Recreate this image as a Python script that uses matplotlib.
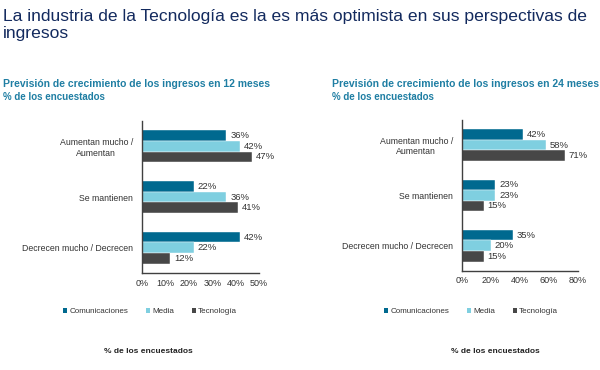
import numpy as np
import matplotlib
matplotlib.use("Agg")
import matplotlib.pyplot as plt
from matplotlib.patches import Patch

plt.rcParams["font.family"] = ["Liberation Sans", "DejaVu Sans"]

# --- data ---
categories = ["Aumentan mucho /\nAumentan", "Se mantienen", "Decrecen mucho / Decrecen"]
series_names = ["Comunicaciones", "Media", "Tecnología"]

values_12m = {
    "Comunicaciones": [36, 22, 42],
    "Media": [42, 36, 22],
    "Tecnología": [47, 41, 12],
}
values_24m = {
    "Comunicaciones": [42, 23, 35],
    "Media": [58, 23, 20],
    "Tecnología": [71, 15, 15],
}

ticks_12m = [0, 10, 20, 30, 40, 50]
ticks_24m = [0, 20, 40, 60, 80]

colors = {"Comunicaciones": "#00698f", "Media": "#7fcfe0", "Tecnología": "#474747"}
TITLE_COLOR = "#132a5e"
SUB_COLOR = "#1f7ea3"
TEXT_COLOR = "#333333"

fig = plt.figure(figsize=(6.0, 3.7), dpi=100)

fig.text(0.005, 0.975, "La industria de la Tecnología es la es más optimista en sus perspectivas de\ningresos",
         ha="left", va="top", fontsize=12.6, color=TITLE_COLOR, linespacing=1.12)


def draw_panel(rect, data, ticks, xmax, sub_x, subtitle, legend_x, foot_x):
    ax = fig.add_axes(rect)
    y = np.arange(len(categories))
    h = 0.21
    offsets = [-h, 0, h]
    # width of one data unit in pixels, so labels sit ~4px past the bar end
    px_per_unit = rect[2] * 600 / xmax
    for name, off in zip(series_names, offsets):
        vals = data[name]
        ax.barh(y + off, vals, height=h, color=colors[name], edgecolor="white", linewidth=0.3)
        for yi, v in zip(y, vals):
            ax.text(v + 4.0 / px_per_unit, yi + off, f"{v}%", va="center", ha="left",
                    fontsize=6.8, color=TEXT_COLOR)
    ax.set_ylim(2.5, -0.5)
    ax.set_xlim(0, xmax)
    ax.set_yticks(y)
    ax.set_yticklabels(categories, fontsize=6.3, color=TEXT_COLOR, multialignment="center")
    ax.set_xticks(ticks)
    ax.set_xticklabels([f"{t}%" for t in ticks], fontsize=6.5, color=TEXT_COLOR)
    ax.tick_params(axis="x", length=0, pad=4)
    ax.tick_params(axis="y", length=0, pad=6.5)
    for s in ["top", "right"]:
        ax.spines[s].set_visible(False)
    for s in ["left", "bottom"]:
        ax.spines[s].set_color("#404040")
        ax.spines[s].set_linewidth(1.0)

    fig.text(sub_x, 0.772, subtitle, ha="left", va="center", fontsize=7.5,
             fontweight="bold", color=SUB_COLOR)
    fig.text(sub_x, 0.737, "% de los encuestados", ha="left", va="center", fontsize=7.0,
             fontweight="bold", color=SUB_COLOR)

    handles = [Patch(facecolor=colors[n], edgecolor="none") for n in series_names]
    fig.legend(handles, series_names, loc="center", bbox_to_anchor=(legend_x, 0.158),
               ncol=3, frameon=False, fontsize=5.8, handlelength=0.5, handleheight=0.5,
               handletextpad=0.3, columnspacing=2.2, labelcolor=TEXT_COLOR)

    fig.text(foot_x, 0.05, "% de los encuestados", ha="center", va="center", fontsize=6.0,
             fontweight="bold", color="#222222")
    return ax


draw_panel([0.2367, 0.262, 0.195, 0.411], values_12m, ticks_12m, 50, 0.005,
           "Previsión de crecimiento de los ingresos en 12 meses", 0.25, 0.247)
draw_panel([0.77, 0.268, 0.193, 0.408], values_24m, ticks_24m, 80, 0.553,
           "Previsión de crecimiento de los ingresos en 24 meses", 0.785, 0.825)

fig.savefig("out.png", dpi=100, facecolor="white")
